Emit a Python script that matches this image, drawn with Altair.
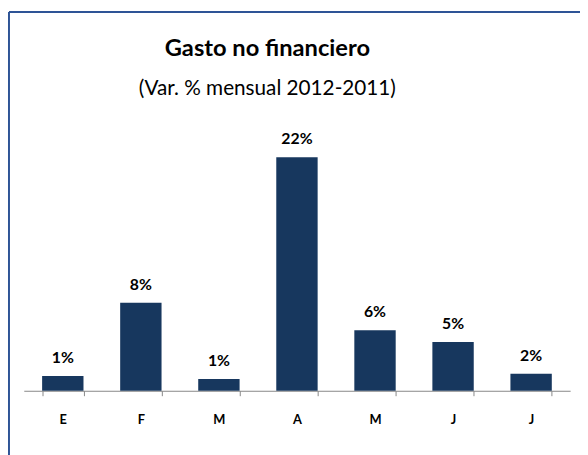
import altair as alt
import pandas as pd

title_text = "Gasto no financiero"
subtitle_text = "(Var. % mensual 2012-2011)"
months = ["E", "F", "M", "A", "M ", "J", "J "]
values = [1.4, 8.3, 1.1, 22.0, 5.7, 4.6, 1.6]
labels = ["1%", "8%", "1%", "22%", "6%", "5%", "2%"]

df = pd.DataFrame({"mes": months, "var": values, "etiqueta": labels})
title_df = pd.DataFrame({"t": [title_text]})
subtitle_df = pd.DataFrame({"t": [subtitle_text]})

FONT = "Lato"
BAR = "#17375E"
BORDER = "#2E5496"

x_enc = alt.X(
    "mes:N",
    sort=months,
    scale=alt.Scale(paddingInner=0.47, paddingOuter=0.235),
    axis=alt.Axis(
        title=None,
        labelAngle=0,
        labelFont=FONT,
        labelFontWeight="bold",
        labelFontSize=13,
        labelColor="#000000",
        labelPadding=18,
        labelExpr="trim(datum.label)",
        domainColor="#868686",
        tickColor="#868686",
        tickSize=5,
        ticks=True,
        tickBand="extent",
        grid=False,
    ),
)
y_enc = alt.Y("var:Q", scale=alt.Scale(domain=[0, 25], nice=False), axis=None)

bars = alt.Chart(df).mark_bar(color=BAR).encode(x=x_enc, y=y_enc)

text = alt.Chart(df).mark_text(
    font=FONT, fontSize=16, fontWeight="bold", color="#000000",
    baseline="middle", dy=-18,
).encode(x=x_enc, y=y_enc, text="etiqueta:N")

title = alt.Chart(title_df).mark_text(
    font=FONT, fontSize=24, fontWeight="bold", color="#000000",
    align="center", baseline="middle",
).encode(x=alt.value(247), y=alt.value(-77), text="t:N")

subtitle = alt.Chart(subtitle_df).mark_text(
    font=FONT, fontSize=21, color="#000000",
    align="center", baseline="middle",
).encode(x=alt.value(247), y=alt.value(-37), text="t:N")

left_border = alt.Chart(title_df).mark_rule(color=BORDER, strokeWidth=2).encode(
    x=alt.value(-15), y=alt.value(-115), y2=alt.value(400)
)
top_border = alt.Chart(title_df).mark_rule(color=BORDER, strokeWidth=2).encode(
    x=alt.value(-15), x2=alt.value(600), y=alt.value(-115)
)

chart = alt.layer(bars, text, title, subtitle, left_border, top_border).properties(
    width=554,
    height=269,
    autosize=alt.AutoSizeParams(type="none"),
    padding={"left": 16, "top": 116, "right": 10, "bottom": 62},
).configure_view(stroke=None)

chart.save("out.html", embed_options={"renderer": "svg", "actions": False})
